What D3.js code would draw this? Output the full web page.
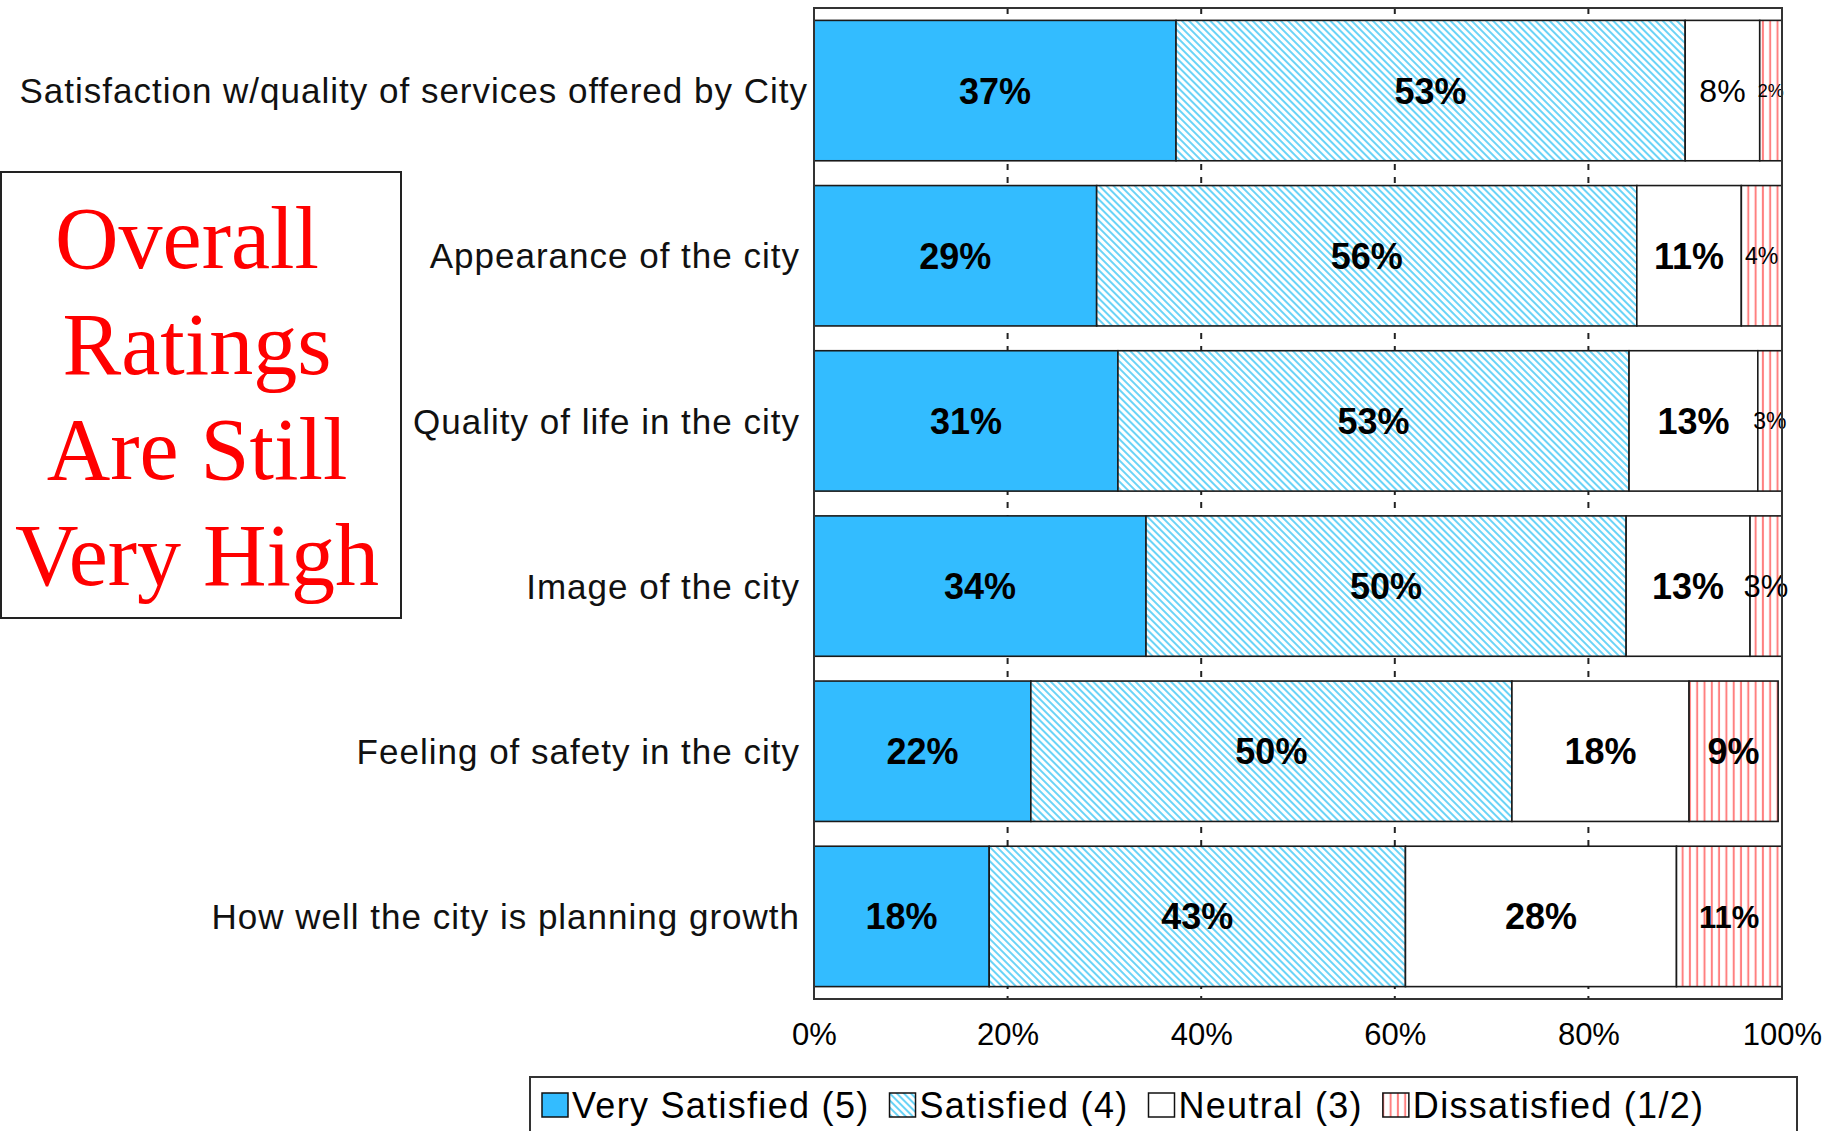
<!DOCTYPE html>
<html>
<head>
<meta charset="utf-8">
<script src="https://cdn.jsdelivr.net/npm/d3@7"></script>
<style>
  body { margin: 0; background: #fff; }
  svg { display: block; }
  .sans { font-family: "Liberation Sans", Arial, sans-serif; }
</style>
</head>
<body>
<svg id="chart" width="1837" height="1131"></svg>
<script>
// survey rows, top to bottom
var categories = [
  "Satisfaction w/quality of services offered by City",
  "Appearance of the city",
  "Quality of life in the city",
  "Image of the city",
  "Feeling of safety in the city",
  "How well the city is planning growth"
];

// percent of respondents per rating (labels are rounded)
var verySatisfied = [37.4, 29.2, 31.4, 34.3, 22.4, 18.1];
var satisfied     = [52.6, 55.8, 52.8, 49.6, 49.7, 43.0];
var neutral       = [7.7, 10.8, 13.3, 12.8, 18.3, 28.0];
var dissatisfied  = [2.3, 4.2, 2.5, 3.3, 9.2, 10.9];

var seriesNames = ["Very Satisfied (5)", "Satisfied (4)", "Neutral (3)", "Dissatisfied (1/2)"];
var tickValues = [0, 20, 40, 60, 80, 100];
var titleLines = ["Overall", "Ratings", "Are Still", "Very High"];

var svg = d3.select("#chart");

// patterns for the hatched series
var defs = svg.append("defs");
var hatch = defs.append("pattern")
  .attr("id", "hatchBlue")
  .attr("patternUnits", "userSpaceOnUse")
  .attr("width", 5).attr("height", 5)
  .attr("patternTransform", "rotate(-45)");
hatch.append("rect").attr("width", 5).attr("height", 5).attr("fill", "#fff");
hatch.append("line").attr("x1", 1).attr("x2", 1).attr("y1", 0).attr("y2", 5)
  .attr("stroke", "#45c9f5").attr("stroke-width", 1.6);

var vert = defs.append("pattern")
  .attr("id", "vertRed")
  .attr("patternUnits", "userSpaceOnUse")
  .attr("width", 7.3).attr("height", 10);
vert.append("rect").attr("width", 7.3).attr("height", 10).attr("fill", "#fff");
vert.append("line").attr("x1", 3.6).attr("x2", 3.6).attr("y1", 0).attr("y2", 10)
  .attr("stroke", "#ff8080").attr("stroke-width", 2);

var fills = ["#33bcff", "url(#hatchBlue)", "#ffffff", "url(#vertRed)"];

// scales
var x = d3.scaleLinear().domain([0, 100]).range([814, 1782]);
var y = d3.scaleBand().domain(categories).range([8, 999])
  .paddingInner(0.15).paddingOuter(0.075);

// gridlines (dashed, only visible between bars)
svg.append("g")
  .selectAll("line")
  .data(tickValues.slice(1, -1))
  .enter().append("line")
  .attr("x1", d => x(d)).attr("x2", d => x(d))
  .attr("y1", y.range()[0]).attr("y2", y.range()[1])
  .attr("stroke", "#222")
  .attr("stroke-width", 2)
  .attr("stroke-dasharray", "6,7");

// stacked bars
var keys = ["vs", "s", "n", "d"];
var rows = categories.map(function (c, i) {
  return { cat: c, vs: verySatisfied[i], s: satisfied[i], n: neutral[i], d: dissatisfied[i] };
});
var stacked = d3.stack().keys(keys)(rows);

var barG = svg.append("g");
stacked.forEach(function (layer, k) {
  barG.selectAll(null)
    .data(layer)
    .enter().append("rect")
    .attr("x", d => x(d[0]))
    .attr("y", d => y(d.data.cat))
    .attr("width", d => x(d[1]) - x(d[0]))
    .attr("height", y.bandwidth())
    .attr("fill", fills[k])
    .attr("stroke", "#1a1a1a")
    .attr("stroke-width", 1.6);
});

// label look, by "row,series" where it differs from bold 36px
var labelOverride = {
  "0,2": [32, 400], "0,3": [18, 400],
  "1,3": [23, 400], "2,3": [23, 400],
  "3,3": [31, 400], "5,3": [31, 700]
};

var labelG = svg.append("g").attr("class", "sans");
stacked.forEach(function (layer, k) {
  layer.forEach(function (d, i) {
    var o = labelOverride[i + "," + k] || [36, 700];
    labelG.append("text")
      .attr("x", (x(d[0]) + x(d[1])) / 2)
      .attr("y", y(d.data.cat) + y.bandwidth() / 2)
      .attr("dy", "0.36em")
      .attr("text-anchor", "middle")
      .attr("font-size", o[0])
      .attr("font-weight", o[1])
      .attr("fill", "#000")
      .text(Math.round(d.data[keys[k]]) + "%");
  });
});

// plot frame
svg.append("rect")
  .attr("x", x(0)).attr("y", y.range()[0])
  .attr("width", x(100) - x(0))
  .attr("height", y.range()[1] - y.range()[0])
  .attr("fill", "none")
  .attr("stroke", "#333")
  .attr("stroke-width", 2);

// category labels
svg.append("g").attr("class", "sans")
  .selectAll("text")
  .data(categories)
  .enter().append("text")
  .attr("x", (d, i) => x(0) - (i === 0 ? 6 : 14))
  .attr("y", d => y(d) + y.bandwidth() / 2)
  .attr("dy", "0.36em")
  .attr("text-anchor", "end")
  .attr("font-size", 35)
  .attr("letter-spacing", 1)
  .attr("fill", "#111")
  .text(d => d);

// x axis
var xAxis = d3.axisBottom(x)
  .tickValues(tickValues)
  .tickFormat(d => d + "%")
  .tickSize(0)
  .tickPadding(24);
var axG = svg.append("g")
  .attr("transform", "translate(0," + y.range()[1] + ")")
  .call(xAxis);
axG.select(".domain").remove();
axG.selectAll("text")
  .attr("font-family", "Liberation Sans, Arial, sans-serif")
  .attr("font-size", 31)
  .attr("fill", "#000");

// title box
svg.append("rect")
  .attr("x", 1).attr("y", 172).attr("width", 400).attr("height", 446)
  .attr("fill", "#fff").attr("stroke", "#222").attr("stroke-width", 2);
svg.append("g")
  .selectAll("text")
  .data(titleLines)
  .enter().append("text")
  .attr("x", (d, i) => i === 0 ? 187 : 197)
  .attr("y", (d, i) => 268 + i * 105.7)
  .attr("text-anchor", "middle")
  .attr("font-family", "Liberation Serif, Times New Roman, serif")
  .attr("font-size", 88)
  .attr("fill", "#ff0000")
  .text(d => d);

// legend
var legG = svg.append("g").attr("class", "sans");
legG.append("rect")
  .attr("x", 530).attr("y", 1077).attr("width", 1267).attr("height", 80)
  .attr("fill", "#fff").attr("stroke", "#333").attr("stroke-width", 2);
var lx = 542;
seriesNames.forEach(function (name, k) {
  legG.append("rect")
    .attr("x", lx).attr("y", 1093).attr("width", 26).attr("height", 24)
    .attr("fill", fills[k]).attr("stroke", "#111").attr("stroke-width", 1.5);
  var t = legG.append("text")
    .attr("x", lx + 30).attr("y", 1118)
    .attr("font-size", 36)
    .attr("letter-spacing", 1.3)
    .attr("fill", "#000")
    .text(name);
  lx += 30 + t.node().getComputedTextLength() + 20;
});
</script>
</body>
</html>
